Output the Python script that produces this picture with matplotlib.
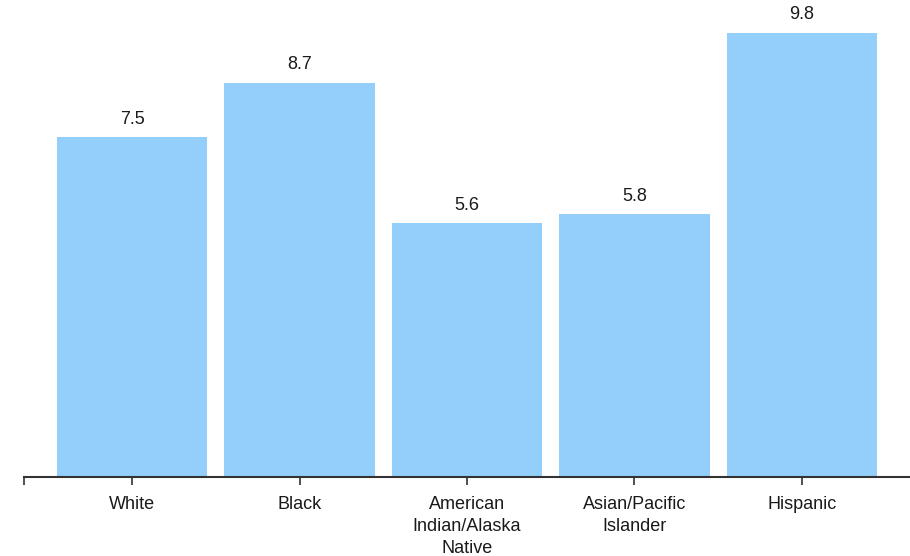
import matplotlib
matplotlib.use("Agg")
import matplotlib.pyplot as plt

categories = ["White", "Black", "American\nIndian/Alaska\nNative", "Asian/Pacific\nIslander", "Hispanic"]
values = [7.5, 8.7, 5.6, 5.8, 9.8]
value_labels = ["7.5", "8.7", "5.6", "5.8", "9.8"]

plt.rcParams['font.family'] = ['Liberation Sans', 'DejaVu Sans']

W, H = 910, 556
fig = plt.figure(figsize=(W / 100, H / 100), dpi=100)
ax = fig.add_axes([24 / W, 79 / H, 1 - 24 / W, 477 / H])

x = list(range(len(categories)))
ax.bar(x, values, width=0.896, color="#93CFFA", zorder=2)
for xi, v, lab in zip(x, values, value_labels):
    ax.annotate(lab, (xi, v), xytext=(0, 7), textcoords="offset points",
                ha="center", va="bottom", fontsize=13, color="#1a1a1a")

ax.set_xlim(-0.645, 4.645)
ax.set_ylim(0, 477 / 45.3)
ax.set_xticks(x)
ax.set_xticklabels(categories, fontsize=13, color="#1a1a1a", linespacing=1.38)
ax.set_xticks([-0.645], minor=True)
ax.tick_params(axis="x", which="both", direction="out", length=6, width=1.2,
               color="#333333", pad=8)
ax.set_yticks([])
for s in ["top", "right", "left"]:
    ax.spines[s].set_visible(False)
ax.spines["bottom"].set_color("#333333")
ax.spines["bottom"].set_linewidth(1.5)
ax.spines["bottom"].set_zorder(3)

fig.savefig("out.png", dpi=100)
